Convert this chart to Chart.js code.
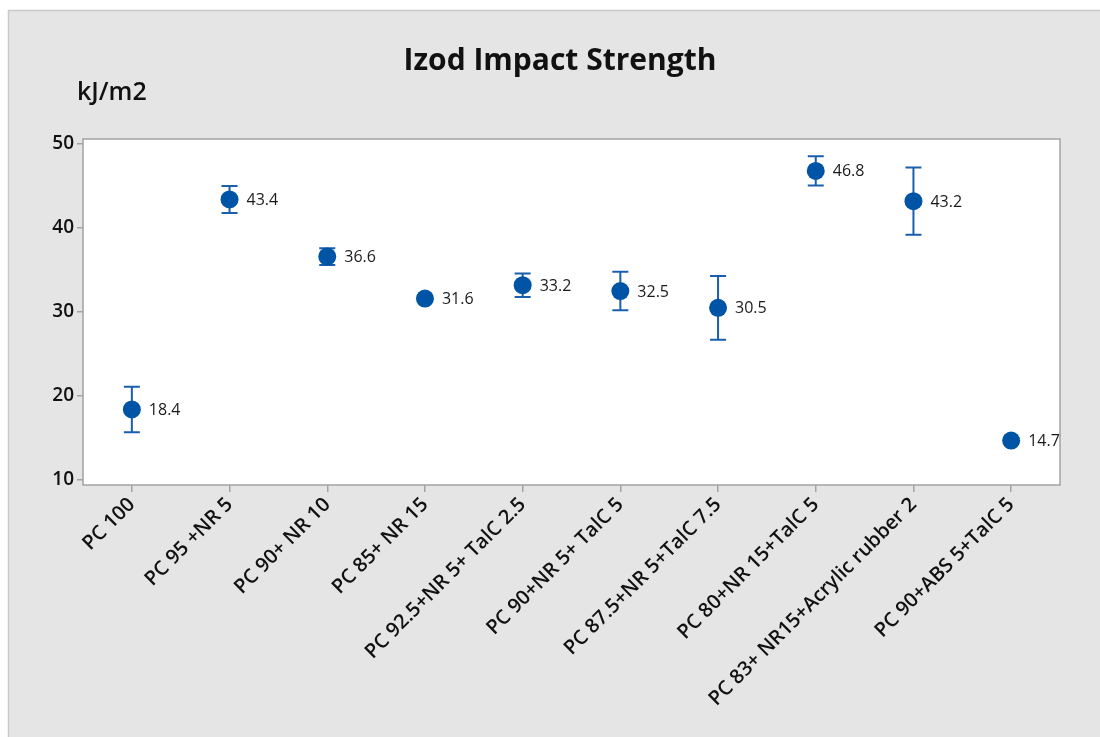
<!DOCTYPE html>
<html>
<head>
<meta charset="utf-8">
<script src="https://cdn.jsdelivr.net/npm/chart.js@4.4.1/dist/chart.umd.min.js"></script>
<style>
  html, body { margin: 0; padding: 0; background: #ffffff; }
  #wrap { width: 1100px; height: 737px; position: relative; }
</style>
</head>
<body>
<div id="wrap"><canvas id="c" width="1100" height="737"></canvas></div>
<script>
// Blend compositions
const categories = [
  'PC 100',
  'PC 95 +NR 5',
  'PC 90+ NR 10',
  'PC 85+ NR 15',
  'PC 92.5+NR 5+ TalC 2.5',
  'PC 90+NR 5+ TalC 5',
  'PC 87.5+NR 5+TalC 7.5',
  'PC 80+NR 15+TalC 5',
  'PC 83+ NR15+Acrylic rubber 2',
  'PC 90+ABS 5+TalC 5'
];
// Mean impact strength (kJ/m2)
const means = [18.4, 43.4, 36.6, 31.6, 33.2, 32.5, 30.5, 46.8, 43.2, 14.7];
// Half-width of each error bar (kJ/m2)
const errors = [2.7, 1.6, 1.0, 0.3, 1.4, 2.3, 3.8, 1.75, 4.0, 0.3];
// Value axis ticks
const yTicks = [10, 20, 30, 40, 50];

const FONT = '"Open Sans", "Noto Sans", "DejaVu Sans", sans-serif';
const BLUE = '#0054a6';

const framePlugin = {
  id: 'frame',
  beforeDraw(chart) {
    const ctx = chart.ctx;
    const a = chart.chartArea;
    ctx.save();
    // grey panel
    ctx.fillStyle = '#e5e5e5';
    ctx.fillRect(8, 10, 1092, 727);
    ctx.strokeStyle = '#c9c9c9';
    ctx.lineWidth = 1.5;
    ctx.beginPath();
    ctx.moveTo(8.5, 737); ctx.lineTo(8.5, 10.5); ctx.lineTo(1100, 10.5);
    ctx.stroke();
    // white plotting region
    ctx.fillStyle = '#ffffff';
    ctx.fillRect(a.left, a.top, a.right - a.left, a.bottom - a.top);
    // title and unit
    ctx.fillStyle = '#111';
    ctx.textAlign = 'center';
    ctx.textBaseline = 'middle';
    ctx.font = 'bold 30px ' + FONT;
    ctx.fillText('Izod Impact Strength', 560, 61);
    ctx.textAlign = 'left';
    ctx.font = '600 25px ' + FONT;
    ctx.fillText('kJ/m2', 77, 93);
    ctx.restore();
  },
  afterDatasetsDraw(chart) {
    const ctx = chart.ctx;
    const a = chart.chartArea;
    ctx.save();
    ctx.strokeStyle = '#a3a3a3';
    ctx.lineWidth = 1.5;
    ctx.strokeRect(a.left, a.top, a.right - a.left, a.bottom - a.top);
    ctx.restore();
  }
};

const errorBarPlugin = {
  id: 'errorBars',
  beforeDatasetsDraw(chart) {
    const ctx = chart.ctx;
    const xs = chart.scales.x, ys = chart.scales.y;
    ctx.save();
    ctx.strokeStyle = '#1a5fae';
    ctx.lineWidth = 2;
    means.forEach((m, i) => {
      const x = xs.getPixelForValue(i);
      const yt = ys.getPixelForValue(m + errors[i]);
      const yb = ys.getPixelForValue(m - errors[i]);
      ctx.beginPath();
      ctx.moveTo(x, yt); ctx.lineTo(x, yb);
      ctx.moveTo(x - 8, yt); ctx.lineTo(x + 8, yt);
      ctx.moveTo(x - 8, yb); ctx.lineTo(x + 8, yb);
      ctx.stroke();
    });
    ctx.restore();
  },
  afterDatasetsDraw(chart) {
    const ctx = chart.ctx;
    const a = chart.chartArea;
    const xs = chart.scales.x, ys = chart.scales.y;
    ctx.save();
    ctx.beginPath();
    ctx.rect(a.left, a.top, a.right - a.left, a.bottom - a.top);
    ctx.clip();
    ctx.fillStyle = '#1a1a1a';
    ctx.font = '16px ' + FONT;
    ctx.textAlign = 'left';
    ctx.textBaseline = 'middle';
    means.forEach((m, i) => {
      ctx.fillText(m.toFixed(1), xs.getPixelForValue(i) + 17, ys.getPixelForValue(m) + 1);
    });
    ctx.restore();
  }
};

new Chart(document.getElementById('c'), {
  type: 'line',
  data: {
    labels: categories,
    datasets: [{
      data: means,
      showLine: false,
      pointRadius: 9,
      pointHoverRadius: 9,
      pointBackgroundColor: BLUE,
      pointBorderColor: BLUE,
      pointBorderWidth: 0
    }]
  },
  options: {
    responsive: false,
    animation: false,
    events: [],
    layout: { padding: { top: 139, right: 40, left: 0, bottom: 0 } },
    plugins: { legend: { display: false }, tooltip: { enabled: false }, title: { display: false } },
    scales: {
      x: {
        type: 'category',
        offset: true,
        afterFit(s) { s.height = 252; },
        border: { display: false },
        grid: { display: true, drawOnChartArea: false, offset: false, color: '#a3a3a3', lineWidth: 1.5, tickLength: 7 },
        ticks: {
          minRotation: 45, maxRotation: 45, autoSkip: false, padding: 1,
          color: '#111', font: { family: FONT, size: 20, weight: '600' }
        }
      },
      y: {
        min: 9.405, max: 50.6,
        afterFit(s) { s.width = 83; },
        afterBuildTicks(s) { s.ticks = yTicks.map(v => ({ value: v })); },
        border: { display: false },
        grid: { display: true, drawOnChartArea: false, color: '#a3a3a3', lineWidth: 1.5, tickLength: 6 },
        ticks: { padding: 3, color: '#111', font: { family: FONT, size: 19, weight: '600' } }
      }
    }
  },
  plugins: [framePlugin, errorBarPlugin]
});
</script>
</body>
</html>
